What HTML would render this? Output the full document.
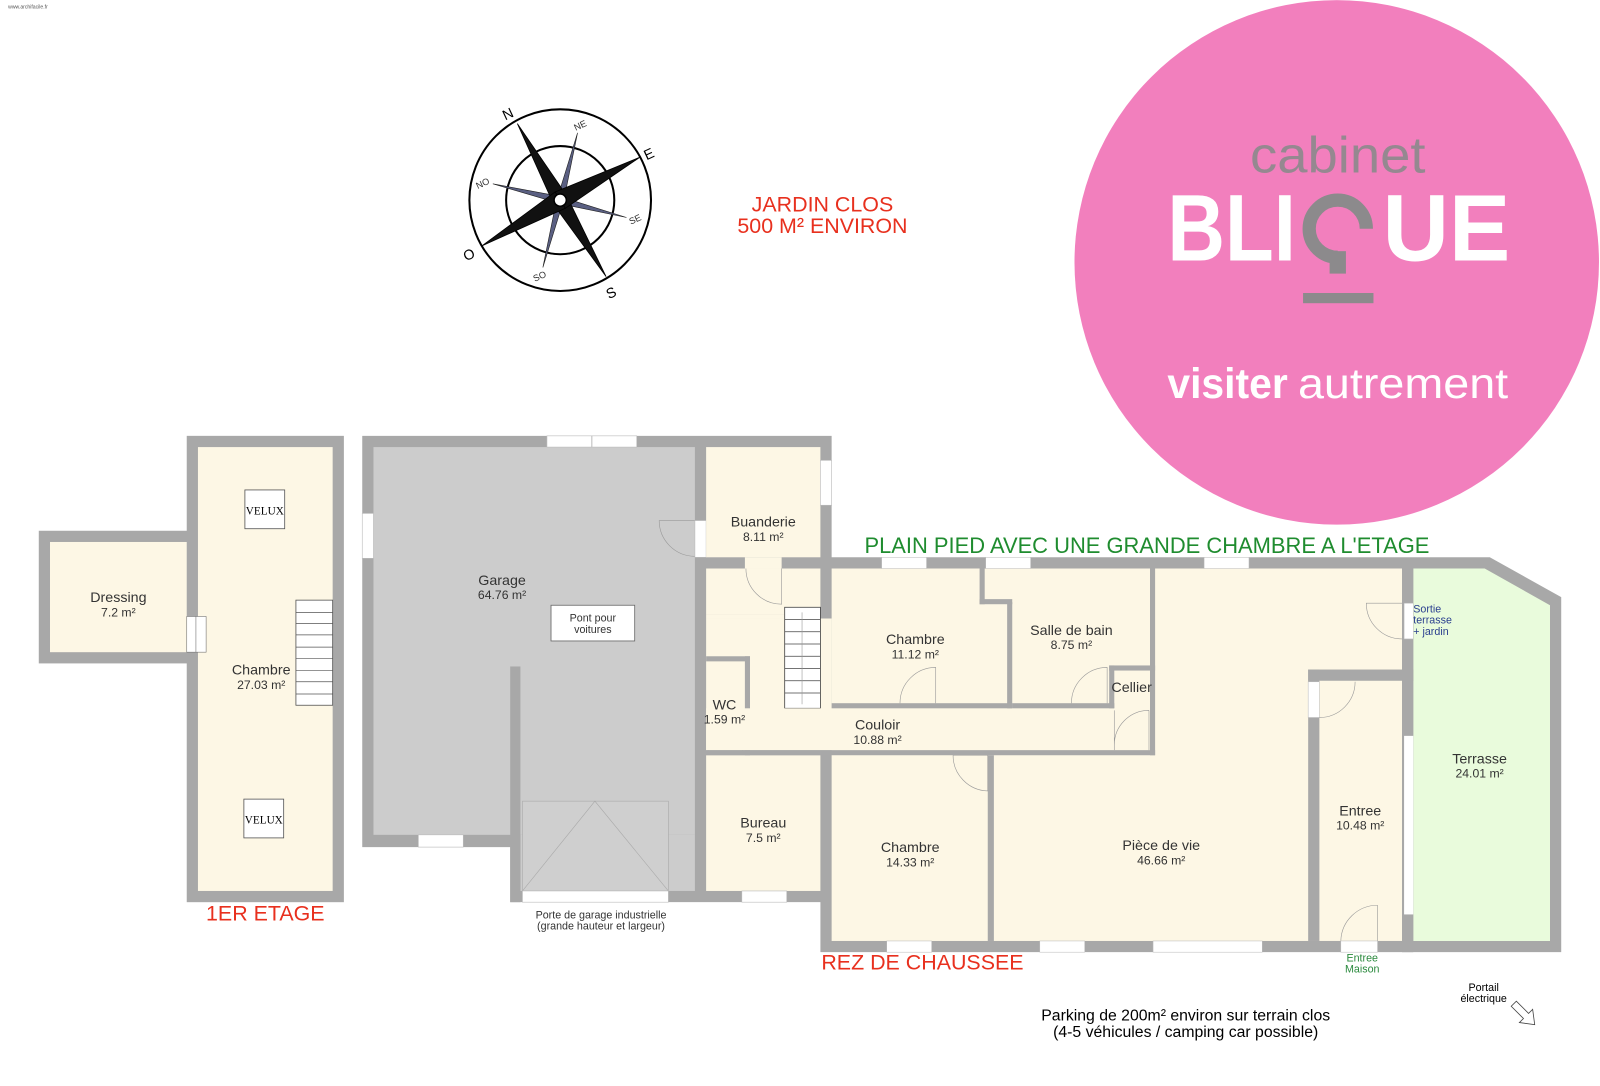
<!DOCTYPE html>
<html><head><meta charset="utf-8"><style>
html,body{margin:0;padding:0;background:#fff;}
svg{display:block;}
text{font-family:"Liberation Sans",Arial,sans-serif;}
</style></head><body>
<svg width="1600" height="1086" viewBox="0 0 1568 1064" xmlns="http://www.w3.org/2000/svg">
<rect width="1568" height="1064" fill="#fff"/>
<text x="8" y="8" font-size="5" fill="#555">www.archifacile.fr</text>

<!-- Logo -->
<circle cx="1310" cy="257" r="257" fill="#f27fbd"/>
<text x="1225" y="169" font-size="50" fill="#8c8a8c" textLength="172" lengthAdjust="spacingAndGlyphs" style="font-weight:normal;opacity:0.9">cabinet</text>
<text x="1144" y="255" font-size="93" font-weight="bold" fill="#fff" textLength="126" lengthAdjust="spacingAndGlyphs">BLI</text>
<text x="1355" y="255" font-size="93" font-weight="bold" fill="#fff" textLength="125" lengthAdjust="spacingAndGlyphs">UE</text>
<path d="M1339 224 A28 28 0 1 0 1311 252" fill="none" stroke="#8c8a8c" stroke-width="13"/>
<rect x="1303" y="246" width="16" height="22" fill="#8c8a8c"/>
<rect x="1277" y="287" width="69" height="10" fill="#8c8a8c"/>
<text x="1144" y="390" font-size="42" fill="#fff" font-weight="bold" textLength="118" lengthAdjust="spacingAndGlyphs">visiter</text>
<text x="1272" y="390" font-size="42" fill="#fff" textLength="206" lengthAdjust="spacingAndGlyphs">autrement</text>

<!-- Compass -->
<g stroke="#000" stroke-width="2" fill="none">
<circle cx="549" cy="196" r="89"/>
<circle cx="549" cy="196" r="53"/>
</g>
<g fill="#5a5f82" stroke="#222" stroke-width="0.6">
<polygon points="566,130 553,194 545,198"/>
<polygon points="614,213 551,200 547,192"/>
<polygon points="532,262 545,198 553,194"/>
<polygon points="483,180 547,192 551,200"/>
</g>
<g fill="#111" stroke="#000" stroke-width="0.8">
<polygon points="507,121 555,191 543,201"/>
<polygon points="594,271 543,201 555,191"/>
<polygon points="627,154 554,204 544,188"/>
<polygon points="472,241 544,188 554,204"/>
</g>
<circle cx="549" cy="196" r="6" fill="#fff" stroke="#000" stroke-width="1.5"/>
<g fill="#000" font-size="14">
<text x="492" y="116" transform="rotate(-25 498 110)">N</text>
<text x="631" y="155" transform="rotate(-25 637 150)">E</text>
<text x="594" y="291" transform="rotate(-25 600 286)">S</text>
<text x="454" y="254" transform="rotate(-25 460 249)">O</text>
</g>
<g fill="#333" font-size="9">
<text x="562" y="126" transform="rotate(-25 568 122)">NE</text>
<text x="616" y="218" transform="rotate(-25 622 214)">SE</text>
<text x="522" y="274" transform="rotate(-25 528 270)">SO</text>
<text x="466" y="183" transform="rotate(-25 472 179)">NO</text>
</g>

<text x="806" y="207" font-size="21" fill="#e8301e" text-anchor="middle">JARDIN CLOS</text>
<text x="806" y="228" font-size="21" fill="#e8301e" text-anchor="middle">500 M² ENVIRON</text>

<!-- 1er étage -->
<rect x="183" y="427" width="154" height="457" fill="#a8a8a8"/>
<rect x="38" y="520" width="156" height="130" fill="#a8a8a8"/>
<rect x="194" y="438" width="132" height="435" fill="#fdf7e5"/>
<rect x="49" y="531" width="134" height="108" fill="#fdf7e5"/>
<rect x="183" y="604" width="19" height="35" fill="#fff" stroke="#777" stroke-width="0.6"/>
<line x1="192" y1="604" x2="192" y2="639" stroke="#777" stroke-width="0.6"/>
<rect x="240" y="480" width="39" height="38" fill="#fff" stroke="#555" stroke-width="0.8"/>
<rect x="239" y="783" width="39" height="38" fill="#fff" stroke="#555" stroke-width="0.8"/>
<text x="259.5" y="504" font-size="11" fill="#000" text-anchor="middle" style="font-family:'Liberation Serif',serif">VELUX</text>
<text x="258.5" y="807" font-size="11" fill="#000" text-anchor="middle" style="font-family:'Liberation Serif',serif">VELUX</text>
<rect x="290" y="588" width="36" height="103" fill="#fff" stroke="#555" stroke-width="0.8"/>
<g stroke="#555" stroke-width="0.7">
<line x1="290" y1="600" x2="326" y2="600"/><line x1="290" y1="611" x2="326" y2="611"/><line x1="290" y1="622" x2="326" y2="622"/><line x1="290" y1="634" x2="326" y2="634"/><line x1="290" y1="645" x2="326" y2="645"/><line x1="290" y1="657" x2="326" y2="657"/><line x1="290" y1="668" x2="326" y2="668"/><line x1="290" y1="680" x2="326" y2="680"/>
</g>
<g fill="#333" text-anchor="middle">
<text x="116" y="590" font-size="14">Dressing</text><text x="116" y="604" font-size="12">7.2 m²</text>
<text x="256" y="661" font-size="14">Chambre</text><text x="256" y="675" font-size="12">27.03 m²</text>
</g>
<text x="260" y="902" font-size="21" fill="#e8301e" text-anchor="middle">1ER ETAGE</text>

<!-- Rez de chaussée: walls -->
<polygon points="355,427 815,427 815,546 1460,546 1530,585 1530,933 804,933 804,884 500,884 500,830 355,830" fill="#a8a8a8"/>
<rect x="366" y="438" width="315" height="380" fill="#cccccc"/>
<rect x="510" y="818" width="171" height="55" fill="#cccccc"/>
<rect x="500" y="653" width="10" height="231" fill="#a8a8a8"/>
<rect x="512" y="785" width="143" height="88" fill="#cfcfcf" stroke="#aaa" stroke-width="0.6"/>
<polyline points="512,873 583,785 655,873" fill="none" stroke="#aaa" stroke-width="0.6"/>
<rect x="512" y="873" width="143" height="11" fill="#fff" stroke="#bbb" stroke-width="0.6"/>
<rect x="536" y="427" width="88" height="11" fill="#fff" stroke="#bbb" stroke-width="0.6"/>
<line x1="580" y1="427" x2="580" y2="438" stroke="#bbb"/>
<rect x="355" y="503" width="11" height="44" fill="#fff" stroke="#bbb" stroke-width="0.6"/>
<rect x="410" y="818" width="44" height="12" fill="#fff" stroke="#bbb" stroke-width="0.6"/>
<rect x="540" y="593" width="82" height="35" fill="#fff" stroke="#666" stroke-width="0.8"/>
<path d="M681 510 L646 510 A35 35 0 0 0 681 545" fill="none" stroke="#999" stroke-width="0.6"/>
<rect x="681" y="510" width="11" height="36" fill="#fff" stroke="#bbb" stroke-width="0.6"/>
<g fill="#333" text-anchor="middle">
<text x="492" y="573" font-size="14">Garage</text><text x="492" y="587" font-size="12">64.76 m²</text>
<text x="581" y="609" font-size="10.5">Pont pour</text><text x="581" y="620" font-size="10.5">voitures</text>
<text x="589" y="900" font-size="10.5">Porte de garage industrielle</text><text x="589" y="911" font-size="10.5">(grande hauteur et largeur)</text>
</g>

<!-- left service block -->
<rect x="692" y="438" width="112" height="108" fill="#fdf7e5"/>
<rect x="692" y="557" width="112" height="45" fill="#fdf7e5"/>
<rect x="692" y="606" width="123" height="129" fill="#fdf7e5"/>
<rect x="692" y="740" width="112" height="133" fill="#fdf7e5"/>
<rect x="730" y="546" width="36" height="11" fill="#fdf7e5"/>
<rect x="692" y="602" width="112" height="4" fill="#fdf7e5"/>
<rect x="804" y="451" width="11" height="44" fill="#fff" stroke="#bbb" stroke-width="0.6"/>
<path d="M766 557 L766 592 A35 35 0 0 1 731 557" fill="none" stroke="#999" stroke-width="0.6"/>
<rect x="730" y="643" width="5" height="97" fill="#a8a8a8"/>
<rect x="692" y="643" width="43" height="5" fill="#a8a8a8"/>
<path d="M694 738 L694 704 A34 34 0 0 1 728 738" fill="none" stroke="#999" stroke-width="0.6"/>
<rect x="769" y="595" width="35" height="99" fill="#fff" stroke="#444" stroke-width="0.8"/>
<g stroke="#444" stroke-width="0.7">
<line x1="769" y1="607" x2="804" y2="607"/><line x1="769" y1="619" x2="804" y2="619"/><line x1="769" y1="631" x2="804" y2="631"/><line x1="769" y1="643" x2="804" y2="643"/><line x1="769" y1="655" x2="804" y2="655"/><line x1="769" y1="667" x2="804" y2="667"/><line x1="769" y1="679" x2="804" y2="679"/>
</g>
<line x1="786" y1="600" x2="786" y2="690" stroke="#999" stroke-width="0.6"/>
<rect x="727" y="873" width="44" height="11" fill="#fff" stroke="#bbb" stroke-width="0.6"/>

<!-- main house floor -->
<rect x="815" y="557" width="559" height="365" fill="#fdf7e5"/>
<rect x="692" y="694" width="440" height="41" fill="#fdf7e5"/>
<polygon points="1385,557 1455,557 1519,593 1519,922 1385,922" fill="#e9fbdc"/>
<rect x="815" y="689" width="177" height="5" fill="#a8a8a8"/>
<rect x="992" y="689" width="100" height="5" fill="#a8a8a8"/>
<rect x="692" y="735" width="440" height="5" fill="#a8a8a8"/>
<rect x="960" y="557" width="5" height="35" fill="#a8a8a8"/>
<rect x="960" y="587" width="32" height="5" fill="#a8a8a8"/>
<rect x="987" y="590" width="5" height="104" fill="#a8a8a8"/>
<rect x="1087" y="652" width="5" height="42" fill="#a8a8a8"/>
<rect x="1087" y="652" width="45" height="5" fill="#a8a8a8"/>
<rect x="1127" y="557" width="5" height="183" fill="#a8a8a8"/>
<rect x="968" y="740" width="6" height="182" fill="#a8a8a8"/>
<rect x="1282" y="656" width="11" height="266" fill="#a8a8a8"/>
<rect x="1282" y="656" width="103" height="11" fill="#a8a8a8"/>
<rect x="1374" y="557" width="11" height="376" fill="#a8a8a8"/>
<rect x="1376" y="721" width="9" height="175" fill="#fff"/>
<rect x="1376" y="591" width="9" height="35" fill="#fff" stroke="#bbb" stroke-width="0.5"/>
<path d="M1374 626 A35 35 0 0 1 1339 591 L1374 591" fill="none" stroke="#999" stroke-width="0.6"/>
<rect x="1282" y="668" width="11" height="35" fill="#fff" stroke="#bbb" stroke-width="0.5"/>
<path d="M1293 703 A35 35 0 0 0 1328 668" fill="none" stroke="#999" stroke-width="0.6"/>
<path d="M1350 922 L1350 887" fill="none" stroke="#999" stroke-width="0.6"/>
<path d="M1314 922 A36 36 0 0 1 1350 887" fill="none" stroke="#999" stroke-width="0.6"/>
<rect x="1314" y="922" width="36" height="11" fill="#fff" stroke="#bbb" stroke-width="0.5"/>
<path d="M882 689 A35 35 0 0 1 917 654 L917 689" fill="none" stroke="#999" stroke-width="0.6"/>
<path d="M1050 689 A35 35 0 0 1 1085 654 L1085 689" fill="none" stroke="#999" stroke-width="0.6"/>
<path d="M1092 730 A34 34 0 0 1 1126 696 M1092 696 L1092 735 M1126 696 L1126 735" fill="none" stroke="#999" stroke-width="0.6"/>
<path d="M934 740 L968 740 L968 775 A35 35 0 0 1 934 740" fill="none" stroke="#999" stroke-width="0.6"/>
<rect x="864" y="546" width="44" height="11" fill="#fff" stroke="#bbb" stroke-width="0.5"/>
<rect x="966" y="546" width="44" height="11" fill="#fff" stroke="#bbb" stroke-width="0.5"/>
<rect x="1180" y="546" width="44" height="11" fill="#fff" stroke="#bbb" stroke-width="0.5"/>
<rect x="869" y="922" width="44" height="11" fill="#fff" stroke="#bbb" stroke-width="0.5"/>
<rect x="1019" y="922" width="44" height="11" fill="#fff" stroke="#bbb" stroke-width="0.5"/>
<rect x="1130" y="922" width="107" height="11" fill="#fff" stroke="#bbb" stroke-width="0.5"/>

<g fill="#333" text-anchor="middle">
<text x="748" y="516" font-size="14">Buanderie</text><text x="748" y="530" font-size="12">8.11 m²</text>
<text x="897" y="631" font-size="14">Chambre</text><text x="897" y="645" font-size="12">11.12 m²</text>
<text x="1050" y="622" font-size="14">Salle de bain</text><text x="1050" y="636" font-size="12">8.75 m²</text>
<text x="1109" y="678" font-size="14">Cellier</text>
<text x="710" y="695" font-size="14">WC</text><text x="710" y="709" font-size="12">1.59 m²</text>
<text x="860" y="715" font-size="14">Couloir</text><text x="860" y="729" font-size="12">10.88 m²</text>
<text x="748" y="811" font-size="14">Bureau</text><text x="748" y="825" font-size="12">7.5 m²</text>
<text x="892" y="835" font-size="14">Chambre</text><text x="892" y="849" font-size="12">14.33 m²</text>
<text x="1138" y="833" font-size="14">Pièce de vie</text><text x="1138" y="847" font-size="12">46.66 m²</text>
<text x="1333" y="799" font-size="14">Entree</text><text x="1333" y="813" font-size="12">10.48 m²</text>
<text x="1450" y="748" font-size="14">Terrasse</text><text x="1450" y="762" font-size="12">24.01 m²</text>
</g>
<g fill="#2a3f8f" font-size="10.5">
<text x="1385" y="600">Sortie</text><text x="1385" y="611">terrasse</text><text x="1385" y="622">+ jardin</text>
</g>
<g fill="#2b8a3e" font-size="10.5" text-anchor="middle">
<text x="1335" y="942">Entree</text><text x="1335" y="953">Maison</text>
</g>
<text x="1124" y="542" font-size="21.5" fill="#1f8c2f" text-anchor="middle">PLAIN PIED AVEC UNE GRANDE CHAMBRE A L'ETAGE</text>
<text x="904" y="950" font-size="21" fill="#e8301e" text-anchor="middle">REZ DE CHAUSSEE</text>
<g fill="#000" text-anchor="middle">
<text x="1162" y="1000" font-size="15.5">Parking de 200m² environ sur terrain clos</text>
<text x="1162" y="1016" font-size="15.5">(4-5 véhicules / camping car possible)</text>
<text x="1454" y="971" font-size="10.5">Portail</text><text x="1454" y="982" font-size="10.5">électrique</text>
</g>
<path d="M1486 981 L1498 993 L1502 989 L1504 1004 L1489 1002 L1493 998 L1481 986 Z" fill="#fff" stroke="#444" stroke-width="0.8"/>
</svg>
</body></html>
